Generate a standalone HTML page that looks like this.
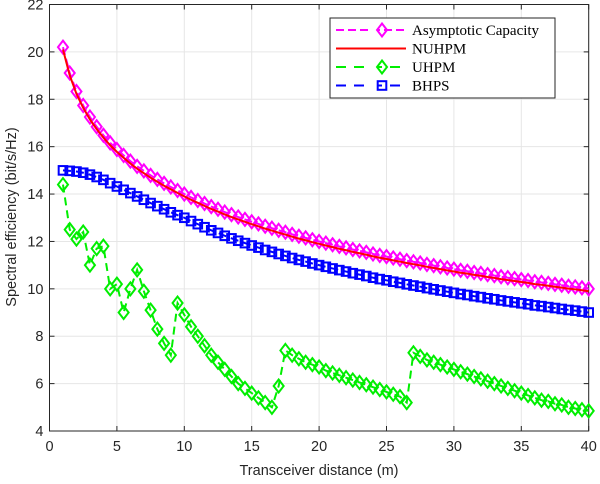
<!DOCTYPE html>
<html><head><meta charset="utf-8"><style>
html,body{margin:0;padding:0;background:#fff;}
svg{display:block;font-family:"Liberation Sans",sans-serif;}
</style></head><body>
<svg id="chart" width="600" height="484" viewBox="0 0 600 484" xmlns="http://www.w3.org/2000/svg">
<g id="grid"></g>
<g id="axes"></g>
<g id="series"></g>
<text x="319" y="475" text-anchor="middle" font-size="14.5" fill="#262626">Transceiver distance (m)</text>
<text transform="translate(16,217) rotate(-90)" text-anchor="middle" font-size="14.5" fill="#262626">Spectral efficiency (bit/s/Hz)</text>
<g id="legend"></g>
</svg>
<script>
const xTicks = [0,5,10,15,20,25,30,35,40];
const yTicks = [4,6,8,10,12,14,16,18,20,22];
const dist = [1,1.5,2,2.5,3,3.5,4,4.5,5,5.5,6,6.5,7,7.5,8,8.5,9,9.5,10,10.5,11,11.5,12,12.5,13,13.5,14,14.5,15,15.5,16,16.5,17,17.5,18,18.5,19,19.5,20,20.5,21,21.5,22,22.5,23,23.5,24,24.5,25,25.5,26,26.5,27,27.5,28,28.5,29,29.5,30,30.5,31,31.5,32,32.5,33,33.5,34,34.5,35,35.5,36,36.5,37,37.5,38,38.5,39,39.5,40];
const asymptotic = [20.2,19.11,18.33,17.74,17.25,16.84,16.48,16.16,15.88,15.63,15.39,15.17,14.98,14.79,14.62,14.45,14.30,14.15,14.00,13.86,13.73,13.60,13.47,13.36,13.24,13.13,13.03,12.93,12.83,12.74,12.64,12.56,12.47,12.39,12.30,12.22,12.15,12.07,12.00,11.93,11.86,11.79,11.73,11.66,11.60,11.54,11.47,11.41,11.36,11.30,11.25,11.19,11.14,11.09,11.03,10.98,10.93,10.88,10.83,10.78,10.74,10.69,10.65,10.60,10.56,10.51,10.47,10.43,10.39,10.35,10.30,10.27,10.23,10.19,10.15,10.11,10.08,10.04,10.00];
const nuhpm = [20.1,19.01,18.23,17.64,17.15,16.74,16.38,16.06,15.78,15.53,15.29,15.07,14.88,14.69,14.52,14.35,14.20,14.05,13.90,13.76,13.63,13.50,13.37,13.26,13.14,13.03,12.93,12.83,12.73,12.64,12.54,12.46,12.37,12.29,12.20,12.12,12.05,11.97,11.90,11.83,11.76,11.69,11.63,11.56,11.50,11.44,11.37,11.31,11.26,11.20,11.15,11.09,11.04,10.99,10.93,10.88,10.83,10.78,10.73,10.68,10.64,10.59,10.55,10.50,10.46,10.41,10.37,10.33,10.29,10.25,10.20,10.17,10.13,10.09,10.05,10.01,9.98,9.94,9.90];
const uhpm = [14.4,12.5,12.1,12.4,11.0,11.7,11.8,10.0,10.2,9.0,10.0,10.8,9.9,9.1,8.3,7.7,7.2,9.4,8.9,8.4,8.0,7.6,7.2,6.9,6.6,6.3,6.0,5.8,5.6,5.4,5.2,5.0,5.9,7.4,7.2,7.05,6.9,6.8,6.7,6.55,6.45,6.35,6.25,6.15,6.05,5.95,5.85,5.75,5.65,5.55,5.45,5.2,7.3,7.15,7.0,6.9,6.8,6.7,6.6,6.5,6.4,6.3,6.2,6.1,6.0,5.9,5.8,5.7,5.6,5.5,5.4,5.3,5.25,5.15,5.1,5.0,4.95,4.9,4.85];
const bhps = [15.0,14.98,14.95,14.9,14.82,14.72,14.6,14.46,14.32,14.18,14.04,13.9,13.76,13.62,13.49,13.36,13.23,13.11,13.0,12.86,12.73,12.60,12.47,12.36,12.24,12.13,12.03,11.93,11.83,11.74,11.64,11.56,11.47,11.39,11.30,11.22,11.15,11.07,11.00,10.93,10.86,10.79,10.73,10.66,10.60,10.54,10.47,10.41,10.36,10.30,10.25,10.19,10.14,10.09,10.03,9.98,9.93,9.88,9.83,9.78,9.74,9.69,9.65,9.60,9.56,9.51,9.47,9.43,9.39,9.35,9.30,9.27,9.23,9.19,9.15,9.11,9.08,9.04,9.00];

const NS='http://www.w3.org/2000/svg';
const L=49.5,R=588.7,T=4.5,B=431;
const xS=v=>L+(v-0)/(40-0)*(R-L);
const yS=v=>B-(v-4)/(22-4)*(B-T);
function mk(tag,attrs,parent){const e=document.createElementNS(NS,tag);for(const k in attrs)e.setAttribute(k,attrs[k]);parent.appendChild(e);return e;}
const grid=document.getElementById('grid'),axes=document.getElementById('axes'),series=document.getElementById('series'),legend=document.getElementById('legend');

xTicks.forEach(t=>{
  const g=mk('line',{x1:xS(t),x2:xS(t),y1:T,y2:B,stroke:'#e6e6e6','stroke-width':1},grid);
  
  
  const tk=mk('line',{x1:xS(t),x2:xS(t),y1:B,y2:B-5,stroke:'#262626'},axes);
  
  
  const tk2=mk('line',{x1:xS(t),x2:xS(t),y1:T,y2:T+5,stroke:'#262626'},axes);
  
  
  const lb=mk('text',{x:xS(t),y:B+20,'text-anchor':'middle','font-size':14.5,fill:'#262626'},axes);
  lb.textContent=t;
  
  
});
yTicks.forEach(t=>{
  const g=mk('line',{x1:L,x2:R,y1:yS(t),y2:yS(t),stroke:'#e6e6e6','stroke-width':1},grid);
  
  
  const tk=mk('line',{x1:L,x2:L+5,y1:yS(t),y2:yS(t),stroke:'#262626'},axes);
  
  
  const tk2=mk('line',{x1:R,x2:R-5,y1:yS(t),y2:yS(t),stroke:'#262626'},axes);
  
  
  const lb=mk('text',{x:L-6,y:yS(t)+5,'text-anchor':'end','font-size':14.5,fill:'#262626'},axes);
  lb.textContent=t;
  
  
});
const frame=mk('rect',{x:L,y:T,width:R-L,height:B-T,fill:'none',stroke:'#262626','stroke-width':1},axes);



function diamond(cx,cy,col,parent,name){
  const p=mk('polygon',{points:`${cx},${cy-6.5} ${cx+5},${cy} ${cx},${cy+6.5} ${cx-5},${cy}`,fill:'none',stroke:col,'stroke-width':2},parent);
  
  
}
function square(cx,cy,col,parent,name){
  const p=mk('rect',{x:cx-4.3,y:cy-4.3,width:8.6,height:8.6,fill:'none',stroke:col,'stroke-width':2},parent);
  
  
}
function line(vals,col,dash,w,name){
  const d=vals.map((v,i)=>(i?'L':'M')+xS(dist[i]).toFixed(2)+','+yS(v).toFixed(2)).join(' ');
  const p=mk('path',{d:d,fill:'none',stroke:col,'stroke-width':w},series);
  if(dash)p.setAttribute('stroke-dasharray',dash);
  
  
}
line(asymptotic,'#ff00ff','8,4',2,'asymptotic-capacity-line');
asymptotic.forEach((v,i)=>diamond(xS(dist[i]),yS(v),'#ff00ff',series,'asymptotic-capacity-point'));
line(nuhpm,'#ff0000',null,2,'nuhpm-line');
line(uhpm,'#00ee00','8,5',2,'uhpm-line');
uhpm.forEach((v,i)=>diamond(xS(dist[i]),yS(v),'#00ee00',series,'uhpm-point'));
line(bhps,'#0000ff','8,5',2,'bhps-line');
bhps.forEach((v,i)=>square(xS(dist[i]),yS(v),'#0000ff',series,'bhps-point'));

// legend
const lbox=mk('rect',{x:330,y:18,width:225,height:80,fill:'#fff',stroke:'#262626','stroke-width':1},legend);


const entries=[['Asymptotic Capacity','#ff00ff','d','8,4'],['NUHPM','#ff0000',null,null],['UHPM','#00ee00','d','10,8'],['BHPS','#0000ff','s','10,8']];
entries.forEach((e,i)=>{
  const y=30+i*18.5;
  const g=mk('g',{},legend);
  
  
  const ln=mk('line',{x1:336,x2:406,y1:y,y2:y,stroke:e[1],'stroke-width':2},g);
  if(e[3])ln.setAttribute('stroke-dasharray',e[3]);
  
  
  if(e[2]==='d')diamond(382,y,e[1],g,'legend-marker');
  if(e[2]==='s')square(382,y,e[1],g,'legend-marker');
  if(e[2]){const c=mk('rect',{x:370,y:y-7,width:8,height:14,fill:'#fff'},g);g.appendChild(g.children[1]);}
  const t=mk('text',{x:412,y:y+5,'font-size':15,fill:'#000','font-family':'"Liberation Serif",serif'},g);
  t.textContent=e[0];
  
  
});
</script>
</body></html>
